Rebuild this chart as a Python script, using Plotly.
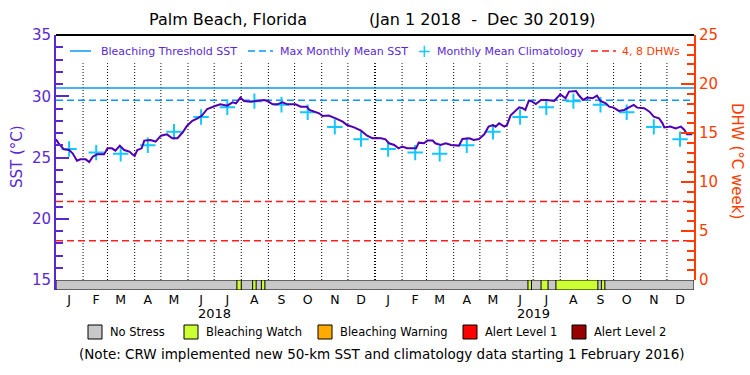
import pandas as pd
import plotly.graph_objects as go

# ---------------- data ----------------
start_date = "2018-01-01"
axis_end = "2020-01-01"

# daily SST (day offset from 2018-01-01, deg C)
sst_day = [0, 3, 9, 15, 19, 24, 28, 34, 38, 42, 47, 55, 59, 64, 68, 73, 78, 84, 87, 90,
           93, 98, 101, 108, 114, 120, 127, 133, 139, 145, 150, 156, 162, 167, 173, 179,
           183, 188, 196, 202, 206, 211, 215, 223, 229, 238, 242, 248, 253, 259, 265, 274,
           280, 287, 290, 295, 301, 305, 312, 320, 328, 333, 341, 349, 356, 362, 366, 372,
           377, 381, 387, 392, 396, 402, 412, 415, 421, 425, 431, 434, 440, 446, 452, 461,
           465, 473, 478, 484, 490, 495, 500, 503, 507, 513, 516, 520, 526, 530, 534, 537,
           541, 545, 549, 555, 562, 570, 577, 583, 587, 595, 598, 603, 608, 614, 619, 623,
           629, 633, 638, 644, 650, 656, 661, 665, 673, 679, 684, 690, 694, 696, 703, 709,
           715, 719, 722, 728]
sst_value = [26.48, 26.16, 25.67, 25.61, 25.34, 24.74, 24.85, 24.85, 24.63, 25.07, 25.26, 25.26,
             25.75, 25.75, 25.56, 25.97, 25.61, 25.48, 25.29, 25.12, 25.61, 25.75, 26.38, 26.43,
             26.30, 26.78, 26.89, 26.57, 26.57, 27.06, 27.60, 28.00, 28.20, 28.42, 28.96, 29.15,
             29.23, 29.34, 29.23, 29.50, 29.42, 29.89, 29.61, 29.56, 29.64, 29.70, 29.61, 29.34,
             29.34, 29.50, 29.34, 29.34, 29.15, 29.15, 28.88, 28.74, 28.61, 28.39, 28.42, 28.20,
             27.93, 27.65, 27.46, 27.19, 26.78, 26.57, 26.60, 26.57, 26.48, 26.16, 26.02, 25.75,
             25.89, 25.75, 25.75, 26.21, 26.16, 26.38, 26.38, 26.16, 26.02, 26.16, 26.02, 25.97,
             26.51, 26.57, 26.43, 26.51, 26.89, 27.52, 27.65, 27.52, 27.79, 27.52, 27.65, 28.42,
             28.88, 29.10, 29.02, 28.88, 29.64, 29.56, 29.37, 29.70, 29.70, 29.61, 30.16, 29.83,
             30.38, 30.43, 30.10, 29.70, 29.89, 29.83, 30.05, 29.61, 29.42, 29.15, 29.07, 28.80,
             28.88, 29.07, 29.29, 29.07, 29.02, 28.74, 28.34, 28.20, 27.79, 27.46, 27.52, 27.38,
             27.52, 27.25, 26.89, 26.89]

mmm_sst = 29.67                 # Max Monthly Mean SST
threshold_sst = 30.67           # Bleaching Threshold SST (MMM + 1)
dhw_levels = [4, 8]             # DHW reference lines

clim_years = [2018, 2019]
clim_month = [1, 2, 3, 4, 5, 6, 7, 8, 9, 10, 11, 12]
clim_value = [25.7, 25.4, 25.3, 26.0, 27.1, 28.3, 29.1, 29.6, 29.3, 28.7, 27.5, 26.5]

watch_start = ["2018-07-27", "2018-08-14", "2018-08-24", "2019-06-25", "2019-07-10", "2019-07-27", "2019-09-17"]
watch_end = ["2018-07-31", "2018-08-17", "2018-08-27", "2019-06-28", "2019-07-17", "2019-09-12", "2019-09-20"]

month_letters = ["J", "F", "M", "A", "M", "J", "J", "A", "S", "O", "N", "D"]
year_labels = ["2018", "2019"]

stress_labels = ["No Stress", "Bleaching Watch", "Bleaching Warning", "Alert Level 1", "Alert Level 2"]
stress_colors = ["#c8c8c8", "#ccff33", "#ffaa00", "#ff0000", "#960000"]

title_place = "Palm Beach, Florida"
title_period = "(Jan\u00a01\u00a02018\u00a0\u00a0-\u00a0\u00a0Dec\u00a030\u00a02019)"
note_text = "(Note: CRW implemented new 50-km SST and climatology data starting 1 February 2016)"

# ---------------- styles ----------------
FONT = "DejaVu Sans"
PURPLE = "#5a28d2"
LINE_PURPLE = "#5000b4"
BLUE = "#0a96ff"
CYAN = "#14c8ff"
RED = "#ff1e1e"
ORANGE = "#ff3c00"

W, H = 750, 375
L, R, T, B = 56, 56, 35, 85
PW = W - L - R
PH = H - T - B
STRIP = 10


def px(p):
    return (p - L) / PW


def py(p):
    return (H - B - p) / PH


t0 = pd.Timestamp(start_date)
sst_x = [t0 + pd.Timedelta(days=d) for d in sst_day]

fig = go.Figure()

# reference lines
xr = [pd.Timestamp(start_date), pd.Timestamp(axis_end)]
fig.add_trace(go.Scatter(x=xr, y=[threshold_sst] * 2, mode="lines",
                         line=dict(color=BLUE, width=1.5), yaxis="y", hoverinfo="skip"))
fig.add_trace(go.Scatter(x=xr, y=[mmm_sst] * 2, mode="lines",
                         line=dict(color=BLUE, width=1.5, dash="7px,4px"), yaxis="y", hoverinfo="skip"))
for lv in dhw_levels:
    fig.add_trace(go.Scatter(x=xr, y=[lv] * 2, mode="lines",
                             line=dict(color=RED, width=1.5, dash="7px,4px"), yaxis="y2", hoverinfo="skip"))

# month dividers
month_starts = pd.date_range("2018-02-01", "2019-12-01", freq="MS")
for ms in month_starts:
    fig.add_shape(type="line", xref="x", yref="y", x0=ms, x1=ms, y0=15, y1=32.7,
                  line=dict(color="black", width=2 if ms.month == 1 else 1, dash="1px,2px"), layer="below")

# climatology
clim_x, clim_y = [], []
for yr in clim_years:
    for m, v in zip(clim_month, clim_value):
        clim_x.append(pd.Timestamp(year=yr, month=m, day=16))
        clim_y.append(v)
fig.add_trace(go.Scatter(x=clim_x, y=clim_y, mode="markers", yaxis="y",
                         marker=dict(symbol="cross-thin", size=11, line=dict(color=CYAN, width=2))))

# SST
fig.add_trace(go.Scatter(x=sst_x, y=sst_value, mode="lines", yaxis="y",
                         line=dict(color=LINE_PURPLE, width=2)))

# stress strip
def add_bar(s, e, color):
    s = pd.Timestamp(s)
    e = pd.Timestamp(e) + pd.Timedelta(days=1)
    w = (e - s).total_seconds() * 1000
    fig.add_trace(go.Bar(x=[s + (e - s) / 2], y=[1], base=0, width=[w], yaxis="y3",
                         marker=dict(color=color, line=dict(color="black", width=1))))

add_bar(start_date, pd.Timestamp(axis_end) - pd.Timedelta(days=1), stress_colors[0])
for s, e in zip(watch_start, watch_end):
    add_bar(s, e, stress_colors[1])

# ---------------- axes ----------------
tick_mid = [pd.Timestamp(year=y, month=m, day=16) for y in clim_years for m in range(1, 13)]
tick_txt = month_letters * len(clim_years)

fig.update_layout(
    width=W, height=H, margin=dict(l=L, r=R, t=T, b=B),
    paper_bgcolor="white", plot_bgcolor="white", showlegend=False, barmode="overlay",
    font=dict(family=FONT),
    xaxis=dict(type="date", range=xr, tickvals=tick_mid, ticktext=tick_txt, ticks="",
               showgrid=False, zeroline=False, showline=False, anchor="y3",
               tickfont=dict(size=12.5, color="black")),
    yaxis=dict(domain=[STRIP / PH, 1], range=[15, 35], tick0=15, dtick=5, ticks="inside",
               ticklen=13, tickwidth=2, tickcolor=PURPLE, showline=True, linecolor=PURPLE, linewidth=2,
               showgrid=False, zeroline=False, tickfont=dict(size=15, color=PURPLE),
               minor=dict(ticks="inside", ticklen=7, tickwidth=2, tickcolor=PURPLE, dtick=1, showgrid=False)),
    yaxis2=dict(overlaying="y", side="right", range=[0, 25], tick0=0, dtick=5, ticks="inside",
                ticklen=13, tickwidth=2, tickcolor=ORANGE, showline=True, linecolor=ORANGE, linewidth=2,
                showgrid=False, zeroline=False, tickfont=dict(size=15, color=ORANGE),
                minor=dict(ticks="inside", ticklen=7, tickwidth=2, tickcolor=ORANGE, dtick=1, showgrid=False)),
    yaxis3=dict(domain=[0, STRIP / PH], range=[0, 1], showticklabels=False, ticks="",
                showgrid=False, zeroline=False, showline=True, linecolor=PURPLE, linewidth=2),
)

# top border
fig.add_shape(type="line", xref="paper", yref="paper", x0=0, x1=1, y0=1, y1=1,
              line=dict(color="black", width=2))

ann = []
# title
ann.append(dict(text=title_place, x=px(228), y=py(20), font=dict(size=16, color="black")))
ann.append(dict(text=title_period, x=px(482), y=py(20), font=dict(size=16, color="black")))
# axis titles
ann.append(dict(text="SST (°C)", x=px(17), y=py(157), textangle=-90, font=dict(size=15, color=PURPLE)))
ann.append(dict(text="DHW (°C week)", x=px(737), y=py(161), textangle=90, font=dict(size=15, color=ORANGE)))
# year labels
for yl in year_labels:
    xd = pd.Timestamp(year=int(yl), month=7, day=1)
    ann.append(dict(text=yl, x=xd, xref="x", y=py(313), font=dict(size=13, color="black")))

# top legend
leg_y = py(51)
fig.add_shape(type="line", xref="paper", yref="paper", x0=px(70), x1=px(91), y0=leg_y, y1=leg_y,
              line=dict(color=BLUE, width=1.5))
fig.add_shape(type="line", xref="paper", yref="paper", x0=px(248), x1=px(273), y0=leg_y, y1=leg_y,
              line=dict(color=BLUE, width=1.5, dash="7px,4px"))
fig.add_shape(type="line", xref="paper", yref="paper", x0=px(591), x1=px(616), y0=leg_y, y1=leg_y,
              line=dict(color=RED, width=1.5, dash="7px,4px"))
ann.append(dict(text="+", x=px(424), y=leg_y, font=dict(size=17, color=CYAN)))
for txt, xp, col in [("Bleaching Threshold SST", 99, PURPLE), ("Max Monthly Mean SST", 278, PURPLE),
                     ("Monthly Mean Climatology", 435, PURPLE), ("4, 8 DHWs", 620, ORANGE)]:
    ann.append(dict(text=txt, x=px(xp), y=leg_y, xanchor="left", font=dict(size=11, color=col)))

# bottom legend
sq_x = [88, 184, 318, 463, 572]
for lab, col, x0 in zip(stress_labels, stress_colors, sq_x):
    fig.add_shape(type="rect", xref="paper", yref="paper", x0=px(x0), x1=px(x0 + 14),
                  y0=py(339), y1=py(325), fillcolor=col, line=dict(color="black", width=1))
    ann.append(dict(text=lab, x=px(x0 + 20), y=py(332), xanchor="left", font=dict(size=11.5, color="black")))

ann.append(dict(text=note_text, x=px(382), y=py(354), font=dict(size=13.5, color="black")))

for a in ann:
    a.setdefault("xref", "paper")
    a.setdefault("yref", "paper")
    a.setdefault("showarrow", False)
    a.setdefault("xanchor", "center")
    a.setdefault("yanchor", "middle")
    fig.add_annotation(**a)

fig.write_html("out.html", config={"displayModeBar": False},
               post_script="document.body.style.margin='0';document.body.style.overflow='hidden';")
